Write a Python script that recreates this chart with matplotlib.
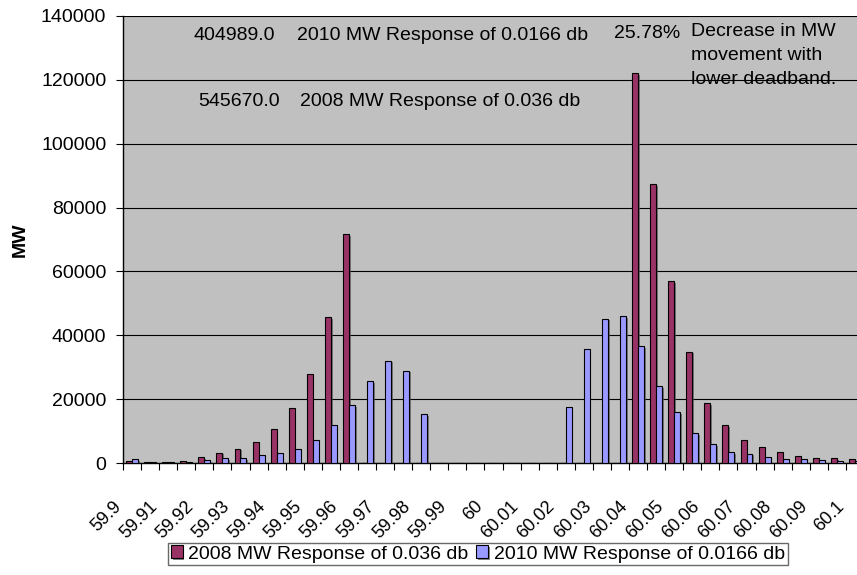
import numpy as np
import matplotlib
matplotlib.use("Agg")
import matplotlib.pyplot as plt
from matplotlib import patheffects
from matplotlib.transforms import ScaledTranslation

plt.rcParams['font.family'] = ['Liberation Sans', 'DejaVu Sans']

# frequency bins, 59.900 .. 60.100 Hz in 0.005 steps
freq = np.round(np.arange(59.9, 60.1001, 0.005), 3)

mw_2008 = [700, 300, 300, 700, 1900, 3200, 4500, 6700, 10700, 17200,
           27900, 45700, 71720, 0, 0, 0, 0, 0, 0, 0,
           0, 0, 0, 0, 0, 0, 0, 0, 122100, 87400,
           56900, 34900, 18700, 11800, 7300, 5000, 3400, 2200, 1600, 1600,
           1250]
mw_2010 = [1250, 300, 300, 300, 950, 1600, 1600, 2600, 3200, 4500,
           7200, 11800, 18200, 25600, 32000, 28900, 15300, 0, 0, 0,
           0, 0, 0, 0, 17639, 35700, 45200, 46000, 36500, 24100,
           16000, 9400, 6000, 3400, 2900, 1900, 1250, 1250, 950, 600,
           600]

label_2008 = "2008 MW Response of 0.036 db"
label_2010 = "2010 MW Response of 0.0166 db"

total_2008 = sum(mw_2008)
total_2010 = sum(mw_2010)
decrease = 1 - total_2010 / total_2008

red = "#993366"
blue = "#9999FF"

fig = plt.figure(figsize=(8.57, 5.75), dpi=100)
ax = fig.add_axes([123 / 857, 112 / 575, 741 / 857, 447 / 575])
ax.set_facecolor("#C0C0C0")

x = np.arange(len(freq))
w = 0.33
shadow = [patheffects.SimplePatchShadow(offset=(1.2, -1.2), shadow_rgbFace="#555555", alpha=0.7),
          patheffects.Normal()]
b1 = ax.bar(x - w / 2, mw_2008, w, color=red, edgecolor="black", linewidth=0.8,
            label=label_2008, zorder=3)
b2 = ax.bar(x + w / 2, mw_2010, w, color=blue, edgecolor="black", linewidth=0.8,
            label=label_2010, zorder=3)
for p in list(b1) + list(b2):
    if p.get_height() > 0:
        p.set_path_effects(shadow)

ax.set_xlim(-0.5, len(freq) - 0.5)
ax.set_ylim(0, 140000)
ax.set_yticks(np.arange(0, 140001, 20000))
ax.grid(axis="y", color="black", linewidth=0.8, zorder=1)
ax.tick_params(axis="y", labelsize=14, length=5, width=0.8, direction="out", pad=7)

# category boundary ticks, labels on every other bin
ax.set_xticks(np.arange(-0.5, len(freq), 1.0), minor=True)
ax.tick_params(axis="x", which="minor", length=5, width=0.8, direction="out")
ax.set_xticks(x[::2], [f"{v:g}" for v in np.round(freq[::2], 2)])
ax.tick_params(axis="x", which="major", length=0, labelsize=13, pad=25)
for lab in ax.get_xticklabels():
    lab.set_rotation(45)
    lab.set_ha("right")
    lab.set_va("top")
    lab.set_rotation_mode("anchor")
    lab.set_transform(lab.get_transform() + ScaledTranslation(-14 / 72, 0, fig.dpi_scale_trans))

for side in ["top", "right"]:
    ax.spines[side].set_visible(False)
ax.spines["left"].set_linewidth(1.0)
ax.spines["bottom"].set_linewidth(1.0)

fig.text(20 / 857, 1 - 240 / 575, "MW", rotation=90, fontsize=14, fontweight="bold",
         ha="center", va="center")

fig.text(193 / 857, 1 - 36 / 575, f"{total_2010:.1f}", fontsize=14, va="center")
fig.text(297 / 857, 1 - 36 / 575, label_2010, fontsize=14, va="center")
fig.text(198 / 857, 1 - 102 / 575, f"{total_2008:.1f}", fontsize=14, va="center")
fig.text(300 / 857, 1 - 102 / 575, label_2008, fontsize=14, va="center")
fig.text(614 / 857, 1 - 33 / 575, f"{decrease * 100:.2f}%", fontsize=14, va="center")
fig.text(691 / 857, 1 - 23 / 575, "Decrease in MW\nmovement with\nlower deadband.",
         fontsize=14, va="top", linespacing=1.55)

leg = fig.legend(handles=[b1, b2], loc="center", bbox_to_anchor=(478 / 857, 1 - 554 / 575),
                 ncol=2, fontsize=14, frameon=True, fancybox=False, edgecolor="#444444",
                 handlelength=0.6, handleheight=0.6, handletextpad=0.3, columnspacing=0.4,
                 borderpad=0.15, borderaxespad=0)
leg.get_frame().set_linewidth(1.0)

fig.savefig("out.png", dpi=100)
